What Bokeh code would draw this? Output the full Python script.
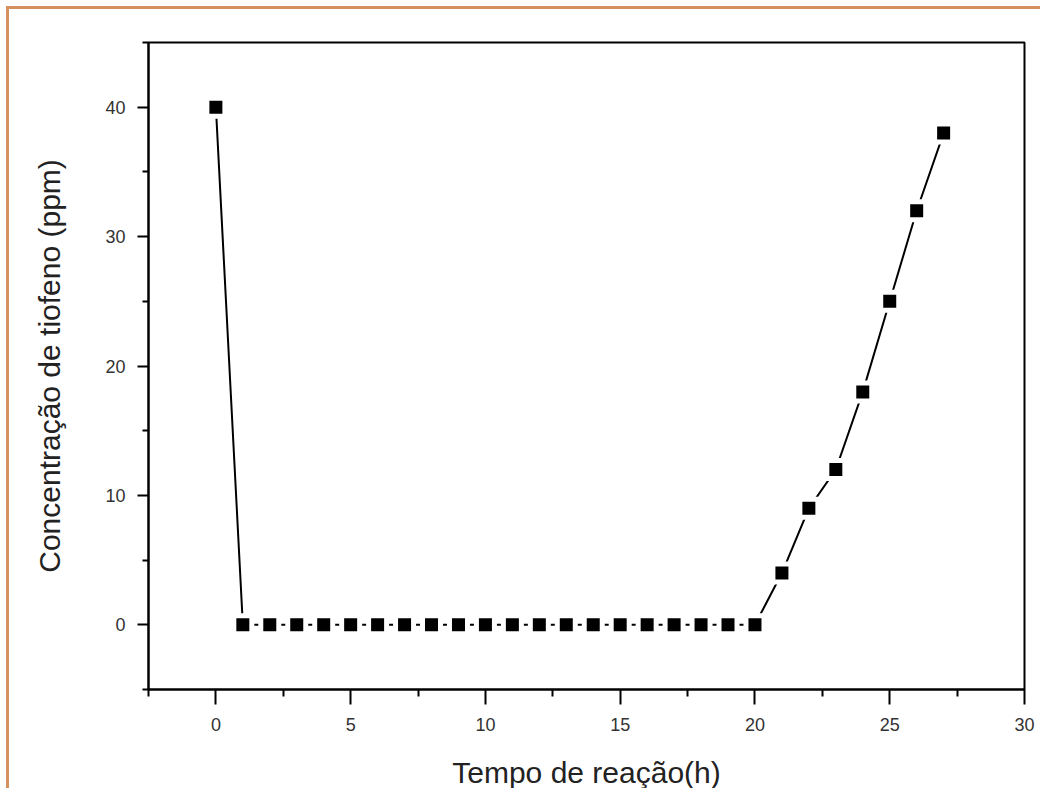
from bokeh.plotting import figure
from bokeh.embed import file_html
from bokeh.resources import INLINE
from bokeh.models import Range1d, FixedTicker

# data
hours = [0, 1, 2, 3, 4, 5, 6, 7, 8, 9, 10, 11, 12, 13, 14, 15, 16, 17, 18, 19, 20,
         21, 22, 23, 24, 25, 26, 27]
conc = [40, 0, 0, 0, 0, 0, 0, 0, 0, 0, 0, 0, 0, 0, 0, 0, 0, 0, 0, 0, 0,
        4, 9, 12, 18, 25, 32, 38]
x_ticks = [0, 5, 10, 15, 20, 25, 30]
y_ticks = [0, 10, 20, 30, 40]
x_label = "Tempo de reação(h)"
y_label = "Concentração de tiofeno (ppm)"

FONT = "Liberation Sans"

p = figure(width=1034, height=782, output_backend="svg", toolbar_location=None,
           x_range=Range1d(-2.5, 30), y_range=Range1d(-5, 45),
           min_border_left=139, min_border_right=19, min_border_top=33, min_border_bottom=101)
p.styles = {"border-top": "3px solid #D4915F", "border-left": "3px solid #D4915F",
            "margin-top": "6px", "margin-left": "6px"}

p.grid.visible = False
p.outline_line_color = "black"
p.outline_line_width = 2
p.background_fill_color = "white"
p.border_fill_color = "white"

p.line(hours, conc, line_color="black", line_width=2)
p.scatter(hours, conc, marker="square", size=18, fill_color="black",
          line_color="white", line_width=5)

for ax, ticks in ((p.xaxis[0], x_ticks), (p.yaxis[0], y_ticks)):
    step = ticks[1] - ticks[0]
    ax.ticker = FixedTicker(ticks=ticks, minor_ticks=[t - step / 2 for t in ticks + [ticks[-1] + step]])
    ax.axis_line_color = "black"
    ax.axis_line_width = 2
    ax.major_tick_line_width = 2
    ax.minor_tick_line_width = 2
    ax.major_tick_in = 0
    ax.minor_tick_in = 0
    ax.major_label_text_font = FONT
    ax.major_label_text_font_size = "18px"
    ax.major_label_text_color = "#333333"
    ax.axis_label_text_font = FONT
    ax.axis_label_text_font_size = "30px"
    ax.axis_label_text_font_style = "normal"
    ax.axis_label_text_color = "#222222"

p.xaxis.major_tick_out = 15
p.xaxis.minor_tick_out = 7
p.xaxis.major_label_standoff = 13
p.xaxis.axis_label = x_label
p.xaxis.axis_label_standoff = 22

p.yaxis.major_tick_out = 11
p.yaxis.minor_tick_out = 6
p.yaxis.major_label_standoff = 12
p.yaxis.axis_label = y_label
p.yaxis.axis_label_standoff = 36

open("out.html", "w").write(file_html(p, INLINE))
